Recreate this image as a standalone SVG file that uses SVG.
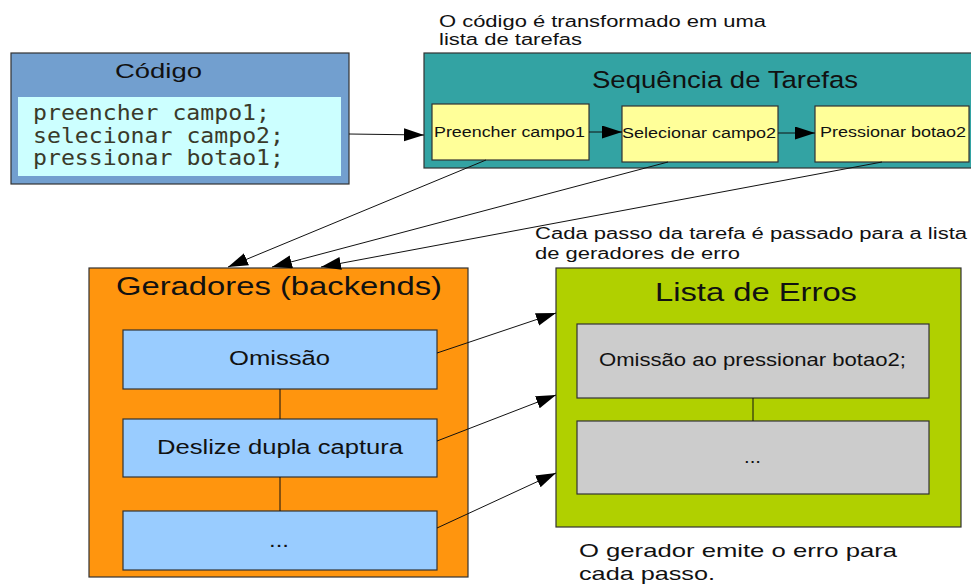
<svg xmlns="http://www.w3.org/2000/svg" width="971" height="584" viewBox="0 0 971 584">
<style>
text{font-family:"Liberation Sans",Arial,sans-serif;fill:#111}
.box{stroke:#333;stroke-width:1.2}
.mono{font-family:"DejaVu Sans Mono","Liberation Mono",monospace;font-size:21px;fill:#3a3a2a}
.con{stroke:#111;stroke-width:1;fill:none}
.ann{font-size:16px}
</style>
<defs>
<marker id="ah" markerUnits="userSpaceOnUse" markerWidth="22" markerHeight="14" refX="20" refY="6.5" orient="auto">
<path d="M0,0 L20,6.5 L0,13 z" fill="#000"/>
</marker>
</defs>

<g id="annotations">
<text class="ann" x="439" y="27" textLength="327" lengthAdjust="spacingAndGlyphs">O código é transformado em uma</text>
<text class="ann" x="439" y="45" textLength="143" lengthAdjust="spacingAndGlyphs">lista de tarefas</text>
<text class="ann" x="535" y="239" font-size="15.5" textLength="432" lengthAdjust="spacingAndGlyphs">Cada passo da tarefa é passado para a lista</text>
<text class="ann" x="535" y="259" font-size="15.5" textLength="205" lengthAdjust="spacingAndGlyphs">de geradores de erro</text>
<text x="579" y="557" font-size="18.5" textLength="318" lengthAdjust="spacingAndGlyphs">O gerador emite o erro para</text>
<text x="579" y="580" font-size="18.5" textLength="136" lengthAdjust="spacingAndGlyphs">cada passo.</text>
</g>

<g id="codigo">
<rect class="box" x="11" y="53" width="338" height="131" fill="#729fcf"/>
<text x="115" y="78" font-size="20" textLength="87" lengthAdjust="spacingAndGlyphs">Código</text>
<rect x="18" y="97" width="323" height="79" fill="#ccffff"/>
<text class="mono" x="33" y="120" textLength="237" lengthAdjust="spacingAndGlyphs">preencher campo1;</text>
<text class="mono" x="33" y="142.5" textLength="251" lengthAdjust="spacingAndGlyphs">selecionar campo2;</text>
<text class="mono" x="33" y="165" textLength="251" lengthAdjust="spacingAndGlyphs">pressionar botao1;</text>
</g>

<g id="sequencia">
<rect class="box" x="424" y="53" width="560" height="115" fill="#33a3a3"/>
<text x="592" y="88" font-size="24.5" textLength="266" lengthAdjust="spacingAndGlyphs">Sequência de Tarefas</text>
</g>
<g id="tarefa1">
<rect class="box" x="432" y="104" width="157" height="56" fill="#ffff99"/>
<text x="434" y="137" font-size="14" textLength="151" lengthAdjust="spacingAndGlyphs">Preencher campo1</text>
</g>
<g id="tarefa2">
<rect class="box" x="622" y="106" width="156" height="56" fill="#ffff99"/>
<text x="622" y="138" font-size="14" textLength="154" lengthAdjust="spacingAndGlyphs">Selecionar campo2</text>
</g>
<g id="tarefa3">
<rect class="box" x="815" y="106" width="154" height="56" fill="#ffff99"/>
<text x="820" y="137" font-size="14" textLength="146" lengthAdjust="spacingAndGlyphs">Pressionar botao2</text>
</g>

<g id="geradores">
<rect class="box" x="89" y="268" width="379" height="309" fill="#ff950e"/>
<text x="116" y="295" font-size="25" textLength="326" lengthAdjust="spacingAndGlyphs">Geradores (backends)</text>
</g>
<g id="gerador-omissao">
<rect class="box" x="123" y="330" width="314" height="59" fill="#99ccff"/>
<text x="229" y="365" font-size="20" textLength="101" lengthAdjust="spacingAndGlyphs">Omissão</text>
</g>
<g id="gerador-deslize">
<rect class="box" x="123" y="419" width="314" height="58" fill="#99ccff"/>
<text x="157" y="454" font-size="20" textLength="246" lengthAdjust="spacingAndGlyphs">Deslize dupla captura</text>
</g>
<g id="gerador-mais">
<rect class="box" x="123" y="511" width="314" height="59" fill="#99ccff"/>
<text x="269" y="547" font-size="20" textLength="20" lengthAdjust="spacingAndGlyphs">...</text>
</g>

<g id="lista-erros">
<rect class="box" x="556" y="268" width="405" height="259" fill="#b0d000"/>
<text x="655" y="301" font-size="25" textLength="202" lengthAdjust="spacingAndGlyphs">Lista de Erros</text>
</g>
<g id="erro1">
<rect class="box" x="577" y="324" width="352" height="74" fill="#cccccc"/>
<text x="599" y="366" font-size="17.5" textLength="307" lengthAdjust="spacingAndGlyphs">Omissão ao pressionar botao2;</text>
</g>
<g id="erro-mais">
<rect class="box" x="577" y="421" width="352" height="73" fill="#cccccc"/>
<text x="744" y="463" font-size="17.5" textLength="17" lengthAdjust="spacingAndGlyphs">...</text>
</g>

<g id="connectors">
<line class="con" x1="349" y1="134" x2="424" y2="135" marker-end="url(#ah)"/>
<line class="con" x1="589" y1="132" x2="622" y2="132" marker-end="url(#ah)"/>
<line class="con" x1="778" y1="133" x2="815" y2="133" marker-end="url(#ah)"/>
<line class="con" x1="486" y1="160" x2="228" y2="267" marker-end="url(#ah)"/>
<line class="con" x1="668" y1="162" x2="272" y2="267" marker-end="url(#ah)"/>
<line class="con" x1="882" y1="162" x2="321" y2="267" marker-end="url(#ah)"/>
<line class="con" x1="437" y1="353" x2="556" y2="313" marker-end="url(#ah)"/>
<line class="con" x1="437" y1="441" x2="556" y2="395" marker-end="url(#ah)"/>
<line class="con" x1="437" y1="528" x2="556" y2="473" marker-end="url(#ah)"/>
<line class="con" x1="280" y1="389" x2="280" y2="419"/>
<line class="con" x1="280" y1="477" x2="280" y2="511"/>
<line class="con" x1="753" y1="398" x2="753" y2="421"/>
</g>
</svg>
